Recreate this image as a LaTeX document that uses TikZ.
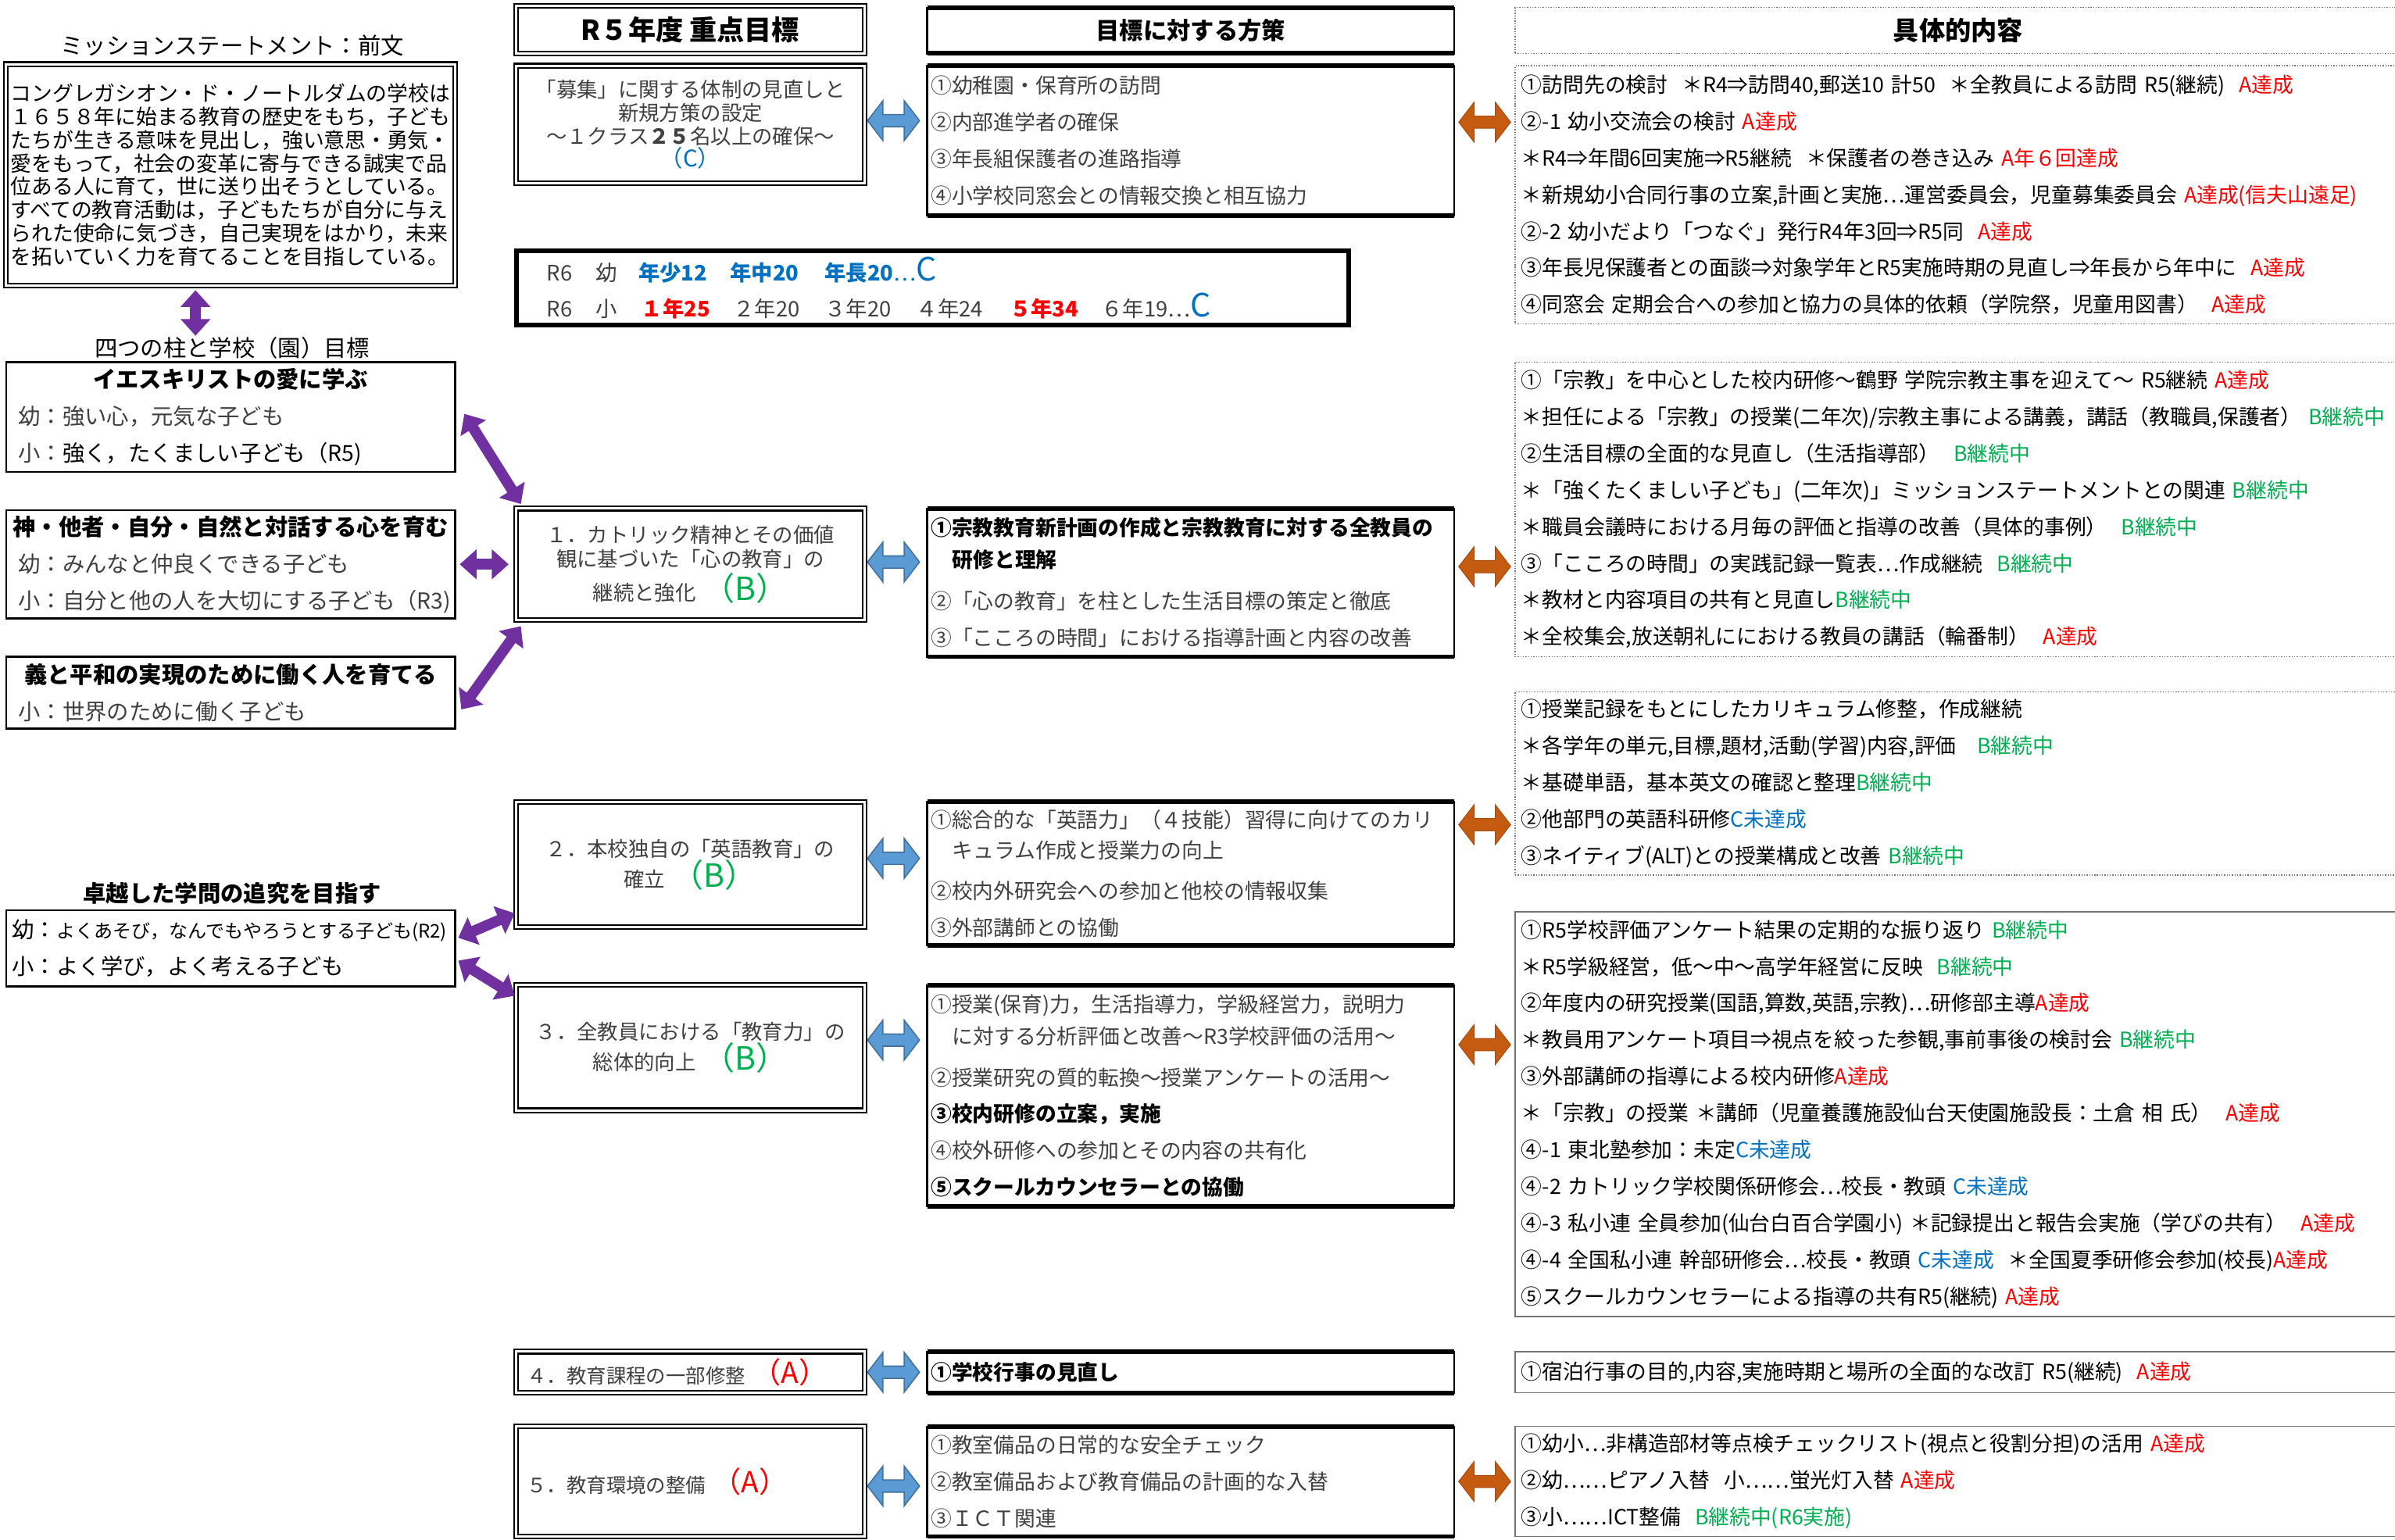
\documentclass[tikz,border=0pt]{standalone}
\usepackage{fontspec}
\setmainfont{Noto Sans CJK JP}
\usetikzlibrary{arrows.meta,calc}
\definecolor{purp}{HTML}{7030A0}
\definecolor{bfill}{HTML}{5B9BD5}
\definecolor{bline}{HTML}{41719C}
\definecolor{ofill}{HTML}{C55A11}
\definecolor{tred}{HTML}{FF0000}
\definecolor{tgreen}{HTML}{00B050}
\definecolor{tblue}{HTML}{0070C0}
\definecolor{gtxt}{HTML}{404040}
\newcommand\myfs[2]{\fontsize{#1pt}{#2pt}\selectfont}
\newcommand\redt[1]{{\color{tred}#1}}
\newcommand\grnt[1]{{\color{tgreen}#1}}
\newcommand\blut[1]{{\color{tblue}#1}}
\newcommand\gryt[1]{{\color{gtxt}#1}}
\begin{document}
\begin{tikzpicture}[x=1pt,y=-1pt,
  every node/.style={inner sep=0pt,outer sep=0pt},
  wh/.style 2 args={minimum width=#1,minimum height=#2},
  dbox/.style={draw,line width=1.1pt,double=white,double distance=1.5pt,anchor=north west},
  lbox/.style={draw,line width=1.3pt,anchor=north west,align=left,inner xsep=8pt,text width=278pt,minimum width=294pt,font=\myfs{14.5}{24}},
  gbox/.style={dbox,minimum width=228pt,align=center,text width=222pt,inner xsep=3pt,text=gtxt},
  tb/.style={append after command={\pgfextra{\let\mn\tikzlastnode}
     (\mn.north west) edge[line width=3pt,draw=black] (\mn.north east)
     (\mn.south west) edge[line width=3pt,draw=black] (\mn.south east)}},
  pbox/.style={draw,line width=1.2pt,anchor=north west,minimum width=345pt,text width=340pt,inner xsep=2.5pt,align=left,text=gtxt,font=\myfs{13.7}{24},tb},
  cbox/.style={draw=black!55,line width=0.7pt,anchor=north west,minimum width=760pt,text width=752pt,inner xsep=4pt,align=left,font=\myfs{13.7}{24}},
  parr/.style={draw=purp,line width=7pt,{Triangle[length=11pt,width=19pt]}-{Triangle[length=11pt,width=19pt]}},
  dblarr/.pic={\path[pic actions] (-17,0) -- (-7,-13) -- (-7,-4) -- (7,-4) -- (7,-13) -- (17,0) -- (7,13) -- (7,4) -- (-7,4) -- (-7,13) -- cycle;},
  barr/.style={fill=bfill,draw=bline,line width=0.8pt},
  oarr/.style={fill=ofill,draw=ofill!85!black,line width=0.5pt}
]
\useasboundingbox (0,0) rectangle (1568,1008);
\fill[white] (0,0) rectangle (1568,1008);

% ---------- column 1 ----------
\node[font=\myfs{15}{15}] (mt) at (152,30) {ミッションステートメント：前文};
\node[dbox,wh={294pt}{145pt},text width=288pt,inner xsep=3pt,align=left,font=\myfs{13.7}{15.3}] (m) at (4,42) {コングレガシオン・ド・ノートルダムの学校は\\
１６５８年に始まる教育の歴史をもち，子ども\\
たちが生きる意味を見出し，強い意思・勇気・\\
愛をもって，社会の変革に寄与できる誠実で品\\
位ある人に育て，世に送り出そうとしている。\\
すべての教育活動は，子どもたちが自分に与え\\
られた使命に気づき，自己実現をはかり，未来\\
を拓いていく力を育てることを目指している。};
\node[font=\myfs{15}{15}] (pt) at (152,228) {四つの柱と学校（園）目標};

\node[lbox,minimum height=72pt] (ba) at (4,237) {\makebox[278pt]{\bfseries\myfs{15}{24}イエスキリストの愛に学ぶ}\\
\gryt{幼：強い心，元気な子ども}\\
\gryt{小：}強く，たくましい子ども（R5)};
\node[lbox,minimum height=71pt] (bb) at (4,334) {\makebox[278pt]{\bfseries\myfs{15}{24}神・他者・自分・自然と対話する心を育む}\\
\gryt{幼：みんなと仲良くできる子ども}\\
\gryt{小：自分と他の人を大切にする子ども（R3)}};
\node[lbox,minimum height=47pt] (bc) at (4,430) {\makebox[278pt]{\bfseries\myfs{15}{24}義と平和の実現のために働く人を育てる}\\
\gryt{小：世界のために働く子ども}};
\node[font=\bfseries\myfs{15}{15}] (td) at (152,585) {卓越した学問の追究を目指す};
\node[lbox,minimum height=50pt,inner xsep=4pt,text width=286pt] (bd) at (4,596) {幼：{\myfs{12.3}{24}よくあそび，なんでもやろうとする子ども(R2)}\\
小：よく学び，よく考える子ども};

% ---------- column 2 ----------
\node[dbox,wh={228pt}{31pt},font=\bfseries\myfs{18}{18}] (h2) at (338,4) {R５年度 重点目標};
\node[gbox,minimum height=77pt,font=\myfs{13.5}{15.3}] (g0) at (338,43) {「募集」に関する体制の見直しと\\
新規方策の設定\\
～１クラス{\bfseries ２５}名以上の確保～\\
\blut{\myfs{15}{15.3}（C）}};
\node[draw,line width=3pt,anchor=north west,wh={545pt}{49pt},text width=505pt,inner xsep=20pt,align=left,font=\myfs{14}{24},text=gtxt] (r6) at (338,164) {%
\makebox[32pt][l]{R6}\makebox[28pt][l]{幼}\makebox[60pt][l]{\bfseries\blut{年少12}}\makebox[62pt][l]{\bfseries\blut{年中20}}{\bfseries\blut{年長20}}\blut{…{\myfs{21}{24}C}}\\
\makebox[32pt][l]{R6}\makebox[30pt][l]{小}\makebox[60pt][l]{\bfseries\redt{１年25}}\makebox[60pt][l]{２年20}\makebox[60pt][l]{３年20}\makebox[61pt][l]{４年24}\makebox[60pt][l]{\bfseries\redt{５年34}}６年19…\blut{\myfs{21}{24}C}};
\node[gbox,minimum height=73pt,font=\myfs{13.5}{16}] (g1) at (338,333) {１．カトリック精神とその価値\\
観に基づいた「心の教育」の\\[2pt]
継続と強化\ {\grnt{\myfs{21}{20}（B）}}};
\node[gbox,minimum height=82pt,font=\myfs{13.5}{20}] (g2) at (338,525) {２．本校独自の「英語教育」の\\
確立\ {\grnt{\myfs{21}{20}（B）}}};
\node[gbox,minimum height=82pt,font=\myfs{13.5}{20}] (g3) at (338,645) {３．全教員における「教育力」の\\
総体的向上\ {\grnt{\myfs{21}{20}（B）}}};
\node[gbox,minimum height=27pt,align=left,inner xsep=7pt,text width=214pt,font=\myfs{13}{16}] (g4) at (338,885) {４．教育課程の一部修整\ {\redt{\myfs{19}{16}（A）}}};
\node[gbox,minimum height=72pt,align=left,inner xsep=7pt,text width=214pt,font=\myfs{13}{16}] (g5) at (338,934) {５．教育環境の整備\ {\redt{\myfs{19}{16}（A）}}};

% ---------- column 3 ----------
\node[draw,line width=1.2pt,tb,anchor=north west,wh={345pt}{30pt},font=\bfseries\myfs{15.5}{15.5}] (h3) at (607,5) {目標に対する方策};
\node[pbox,minimum height=98pt] (p0) at (607,43) {①幼稚園・保育所の訪問\\
②内部進学者の確保\\
③年長組保護者の進路指導\\
④小学校同窓会との情報交換と相互協力};
\node[pbox,minimum height=97pt] (p1) at (607,333) {{\bfseries\color{black}①宗教教育新計画の作成と宗教教育に対する全教員の}\\[-3pt]
\hspace*{14pt}{\bfseries\color{black}研修と理解}\\[3pt]
②「心の教育」を柱とした生活目標の策定と徹底\\
③「こころの時間」における指導計画と内容の改善};
\node[pbox,minimum height=94pt] (p2) at (607,525) {①総合的な「英語力」（４技能）習得に向けてのカリ\\[-4pt]
\hspace*{14pt}キュラム作成と授業力の向上\\[3pt]
②校内外研究会への参加と他校の情報収集\\
③外部講師との協働};
\node[pbox,minimum height=145pt] (p3) at (607,645) {①授業(保育)力，生活指導力，学級経営力，説明力\\[-3pt]
\hspace*{14pt}に対する分析評価と改善～R3学校評価の活用～\\[3pt]
②授業研究の質的転換～授業アンケートの活用～\\
{\bfseries\color{black}③校内研修の立案，実施}\\
④校外研修への参加とその内容の共有化\\
{\bfseries\color{black}⑤スクールカウンセラーとの協働}};
\node[pbox,minimum height=27pt] (p4) at (607,885) {{\bfseries\color{black}①学校行事の見直し}};
\node[pbox,minimum height=72pt] (p5) at (607,934) {①教室備品の日常的な安全チェック\\
②教室備品および教育備品の計画的な入替\\
③ＩＣＴ関連};

% ---------- column 4 ----------
\node[draw=black!55,densely dotted,line width=0.7pt,anchor=north west,wh={580pt}{30pt},font=\bfseries\myfs{17}{17}] (h4) at (992,5) {具体的内容};
\node[cbox,densely dotted,minimum height=169pt] (c0) at (992,43) {①訪問先の検討\ \ ＊R4⇒訪問40,郵送10\ 計50\ \ ＊全教員による訪問\ R5(継続)\ \ \redt{A達成}\\
②-1 幼小交流会の検討\ \redt{A達成}\\
＊R4⇒年間6回実施⇒R5継続\ \ ＊保護者の巻き込み\ \redt{A年６回達成}\\
＊新規幼小合同行事の立案,計画と実施…運営委員会，児童募集委員会\ \redt{A達成(信夫山遠足)}\\
②-2 幼小だより「つなぐ」発行R4年3回⇒R5同\ \ \redt{A達成}\\
③年長児保護者との面談⇒対象学年とR5実施時期の見直し⇒年長から年中に\ \ \redt{A達成}\\
④同窓会\ 定期会合への参加と協力の具体的依頼（学院祭，児童用図書）\ \ \redt{A達成}};
\node[cbox,densely dotted,minimum height=193pt] (c1) at (992,237) {①「宗教」を中心とした校内研修～鶴野\ 学院宗教主事を迎えて～\ R5継続\ \redt{A達成}\\
＊担任による「宗教」の授業(二年次)/宗教主事による講義，講話（教職員,保護者）\ \grnt{B継続中}\\
②生活目標の全面的な見直し（生活指導部）\ \ \grnt{B継続中}\\
＊「強くたくましい子ども」(二年次)」ミッションステートメントとの関連\ \grnt{B継続中}\\
＊職員会議時における月毎の評価と指導の改善（具体的事例）\ \ \grnt{B継続中}\\
③「こころの時間」の実践記録一覧表…作成継続\ \ \grnt{B継続中}\\
＊教材と内容項目の共有と見直し\grnt{B継続中}\\
＊全校集会,放送朝礼ににおける教員の講話（輪番制）\ \ \redt{A達成}};
\node[cbox,densely dotted,minimum height=120pt] (c2) at (992,453) {①授業記録をもとにしたカリキュラム修整，作成継続\\
＊各学年の単元,目標,題材,活動(学習)内容,評価\ \ \ \grnt{B継続中}\\
＊基礎単語，基本英文の確認と整理\grnt{B継続中}\\
②他部門の英語科研修\blut{C未達成}\\
③ネイティブ(ALT)との授業構成と改善\ \grnt{B継続中}};
\node[cbox,minimum height=265pt] (c3) at (992,597) {①R5学校評価アンケート結果の定期的な振り返り\ \grnt{B継続中}\\
＊R5学級経営，低～中～高学年経営に反映\ \ \grnt{B継続中}\\
②年度内の研究授業(国語,算数,英語,宗教)…研修部主導\redt{A達成}\\
＊教員用アンケート項目⇒視点を絞った参観,事前事後の検討会\ \grnt{B継続中}\\
③外部講師の指導による校内研修\redt{A達成}\\
＊「宗教」の授業\ ＊講師（児童養護施設仙台天使園施設長：土倉\ 相\ 氏）\ \ \redt{A達成}\\
④-1 東北塾参加：未定\blut{C未達成}\\
④-2 カトリック学校関係研修会…校長・教頭\ \blut{C未達成}\\
④-3 私小連\ 全員参加(仙台白百合学園小)\ ＊記録提出と報告会実施（学びの共有）\ \ \redt{A達成}\\
④-4 全国私小連\ 幹部研修会…校長・教頭\ \blut{C未達成}\ \ ＊全国夏季研修会参加(校長)\redt{A達成}\\
⑤スクールカウンセラーによる指導の共有R5(継続)\ \redt{A達成}};
\node[cbox,minimum height=27pt] (c4) at (992,885) {①宿泊行事の目的,内容,実施時期と場所の全面的な改訂\ R5(継続)\ \ \redt{A達成}};
\node[cbox,minimum height=72pt] (c5) at (992,934) {①幼小…非構造部材等点検チェックリスト(視点と役割分担)の活用\ \redt{A達成}\\
②幼……ピアノ入替\ \ 小……蛍光灯入替\ \redt{A達成}\\
③小……ICT整備\ \ \grnt{B継続中(R6実施)}};

% ---------- purple connectors ----------
\draw[parr] ([xshift=-23pt,yshift=-3pt]m.south) -- ([xshift=-24pt,yshift=1pt]pt.north);
\draw[parr] ([shift={(6,-2)}]ba.east) -- ([shift={(3,-3)}]g1.north west);
\draw[parr] ([xshift=3pt]bb.east) -- ([xshift=-5pt]g1.west);
\draw[parr] ([shift={(4,11)}]bc.east) -- ([shift={(3,4)}]g1.south west);
\draw[parr] ([shift={(2,-7)}]bd.east) -- ([shift={(-1,-9)}]g2.south west);
\draw[parr] ([shift={(2,8)}]bd.east) -- ([shift={(-1,7)}]g3.north west);

% ---------- blue block arrows (goal <-> plan) ----------
\pic[barr] at ($(g0.east)+(19,-2.5)$) {dblarr};
\pic[barr] at ($(g1.east)+(19,-1.5)$) {dblarr};
\pic[barr] at ($(g2.east)+(19,-4)$) {dblarr};
\pic[barr] at ($(g3.east)+(19,-5)$) {dblarr};
\pic[barr] at ($(g4.east)+(19,0)$) {dblarr};
\pic[barr] at ($(g5.east)+(19,3)$) {dblarr};

% ---------- orange block arrows (plan <-> content) ----------
\pic[oarr] at ($(p0.east)+(20,-12)$) {dblarr};
\pic[oarr] at ($(p1.east)+(20,-10.5)$) {dblarr};
\pic[oarr] at ($(p2.east)+(20,-32)$) {dblarr};
\pic[oarr] at ($(p3.east)+(20,-33.5)$) {dblarr};
\pic[oarr] at ($(p5.east)+(20,0)$) {dblarr};
\end{tikzpicture}
\end{document}
